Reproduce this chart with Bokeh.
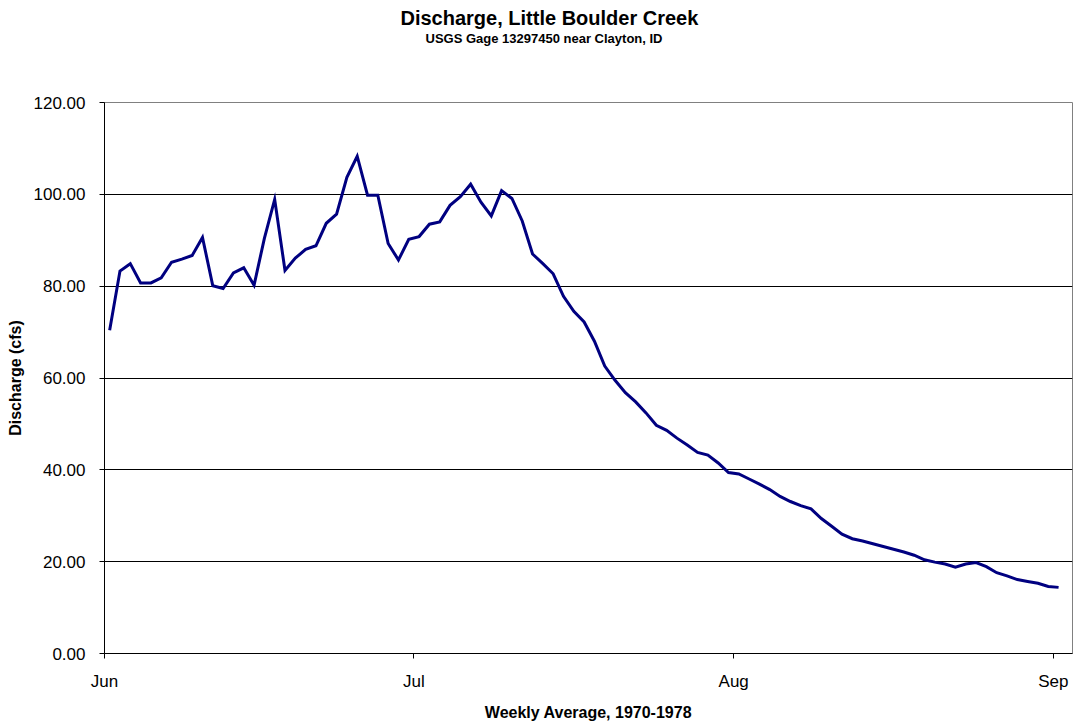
from bokeh.plotting import figure
from bokeh.models import Range1d, FixedTicker, NumeralTickFormatter, Title
from bokeh.embed import file_html
from bokeh.resources import INLINE

# Weekly-averaged daily discharge (cfs), 1 Jun through 1 Sep
discharge_cfs = [
    70.4, 83.3, 84.9, 80.7, 80.7, 81.8, 85.2, 85.9, 86.7, 90.6,
    80.1, 79.5, 82.9, 84.0, 80.2, 90.4, 98.9, 83.4, 86.1, 88.0,
    88.8, 93.7, 95.7, 103.7, 108.3, 99.8, 99.8, 89.3, 85.7, 90.2,
    90.8, 93.5, 94.0, 97.6, 99.5, 102.2, 98.3, 95.3, 100.8, 99.1,
    94.2, 87.0, 84.9, 82.7, 77.8, 74.5, 72.2, 68.0, 62.6, 59.5,
    56.8, 54.8, 52.4, 49.7, 48.6, 46.9, 45.4, 43.8, 43.2, 41.5,
    39.4, 39.1, 38.0, 36.9, 35.7, 34.2, 33.1, 32.2, 31.5, 29.4,
    27.7, 26.0, 25.0, 24.5, 23.9, 23.3, 22.7, 22.1, 21.4, 20.4,
    19.9, 19.5, 18.8, 19.5, 19.8, 18.9, 17.6, 16.9, 16.1, 15.7,
    15.3, 14.6, 14.4,
]

# Month boundaries, in days after 1 Jun
month_labels = ["Jun", "Jul", "Aug", "Sep"]
month_starts = [0, 30, 61, 92]

y_ticks = [0, 20, 40, 60, 80, 100, 120]

# each daily value is centred in its day
day = [i + 0.5 for i in range(len(discharge_cfs))]

FONT = "Liberation Sans"

p = figure(width=1074, height=723, output_backend="svg", toolbar_location=None,
           title=None,
           x_range=Range1d(0, 93.85), y_range=Range1d(0, 120),
           min_border_left=104, min_border_right=2,
           min_border_top=102, min_border_bottom=68)

p.line(day, discharge_cfs, line_color="#000080", line_width=3, line_join="miter")

p.background_fill_color = "white"
p.border_fill_color = "white"
p.outline_line_color = "#808080"
p.outline_line_width = 1

# x axis: months
xa = p.xaxis[0]
xa.ticker = FixedTicker(ticks=month_starts)
xa.major_label_overrides = {m: lab for m, lab in zip(month_starts, month_labels)}
xa.minor_tick_line_color = None
xa.major_tick_in = 0
xa.major_tick_out = 5
xa.axis_line_color = "black"
xa.major_tick_line_color = "black"
xa.major_label_text_font = FONT
xa.major_label_text_font_size = "17px"
xa.major_label_text_color = "black"
xa.major_label_standoff = 13
xa.axis_label = "Weekly Average, 1970-1978"
xa.axis_label_text_font = FONT
xa.axis_label_text_font_style = "bold"
xa.axis_label_text_font_size = "16px"
xa.axis_label_text_color = "black"
xa.axis_label_standoff = 10

# y axis: discharge
ya = p.yaxis[0]
ya.ticker = FixedTicker(ticks=y_ticks)
ya.formatter = NumeralTickFormatter(format="0.00")
ya.minor_tick_line_color = None
ya.major_tick_in = 0
ya.major_tick_out = 5
ya.axis_line_color = "black"
ya.major_tick_line_color = "black"
ya.major_label_text_font = FONT
ya.major_label_text_font_size = "17px"
ya.major_label_text_color = "black"
ya.major_label_standoff = 14
ya.axis_label = "Discharge (cfs)"
ya.axis_label_text_font = FONT
ya.axis_label_text_font_style = "bold"
ya.axis_label_text_font_size = "16px"
ya.axis_label_text_color = "black"
ya.axis_label_standoff = 7

p.xgrid.grid_line_color = None
p.ygrid.grid_line_color = "black"
p.ygrid.grid_line_width = 1

# heading block: blank gap next to the plot area, then subtitle, then title
p.add_layout(Title(text="\u00a0", standoff=54, text_font=FONT,
                   text_font_size="1px"), "above")
p.add_layout(Title(text="USGS Gage 13297450 near Clayton, ID", align="left",
                   offset=321, standoff=0, text_font=FONT, text_font_style="bold",
                   text_font_size="13px", text_color="black"), "above")
p.add_layout(Title(text="Discharge, Little Boulder Creek", align="left",
                   offset=296, standoff=0, text_font=FONT, text_font_style="bold",
                   text_font_size="20px", text_color="black"), "above")

open("out.html", "w").write(file_html(p, INLINE))
